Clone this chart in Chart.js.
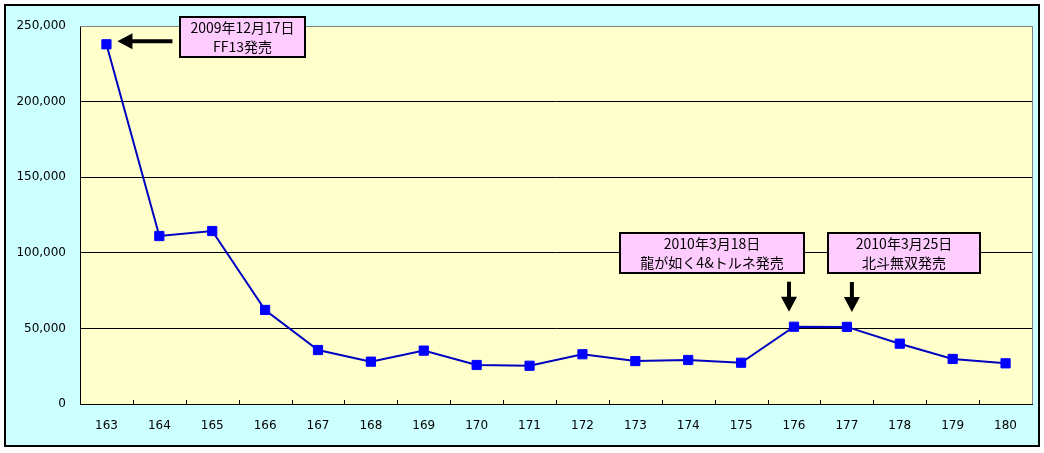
<!DOCTYPE html>
<html>
<head>
<meta charset="utf-8">
<script src="https://cdn.jsdelivr.net/npm/chart.js@4.4.1/dist/chart.umd.min.js"></script>
<style>
  html, body { margin: 0; background: #fff; }
  #wrap { width: 1044px; height: 453px; }
</style>
</head>
<body>
<div id="wrap"><canvas id="salesChart" width="1044" height="453"></canvas></div>
<script>
const weeks = ['163', '164', '165', '166', '167', '168', '169', '170', '171',
               '172', '173', '174', '175', '176', '177', '178', '179', '180'];
const sales = [237900, 111100, 114400, 62200, 35700, 28000, 35300, 25800, 25300,
               32900, 28400, 29100, 27300, 51100, 51000, 39900, 29800, 26900];
const yTicks = [0, 50000, 100000, 150000, 200000, 250000];
const noteWeeks = ['163', '176', '177'];
const noteLines = [
  ['2009年12月17日', 'FF13発売'],
  ['2010年3月18日', '龍が如く4&トルネ発売'],
  ['2010年3月25日', '北斗無双発売']
];

// where each callout sits, relative to the point it points at
const calloutLayout = [
  { dir: 'left', box: { dx: 74, dy: -27.5, w: 125, h: 40 }, arrow: { dx: 11, dy: -3, len: 55 } },
  { dir: 'down', box: { dx: -174, dy: -94, w: 184, h: 40 }, arrow: { dx: -5, dy: -15, len: 30 } },
  { dir: 'down', box: { dx: -19, dy: -94, w: 152, h: 40 }, arrow: { dx: 5, dy: -15, len: 30 } }
];

const frame = {
  id: 'frame',
  beforeDraw(chart) {
    const { ctx, chartArea: a } = chart;
    ctx.save();
    ctx.fillStyle = '#fff';
    ctx.fillRect(0, 0, chart.width, chart.height);
    ctx.fillStyle = '#ccffff';
    ctx.fillRect(5, 5, 1034, 441);
    ctx.strokeStyle = '#000';
    ctx.lineWidth = 2;
    ctx.strokeRect(5, 5, 1034, 441);
    ctx.fillStyle = '#ffffcc';
    ctx.fillRect(a.left, a.top, a.right - a.left, a.bottom - a.top);
    ctx.restore();
  },
  beforeDatasetsDraw(chart) {
    const { ctx, chartArea: a } = chart;
    ctx.save();
    ctx.strokeStyle = '#808080';
    ctx.lineWidth = 1;
    ctx.beginPath();
    ctx.moveTo(a.left, a.top + 0.5);
    ctx.lineTo(a.right + 0.5, a.top + 0.5);
    ctx.lineTo(a.right + 0.5, a.bottom);
    ctx.stroke();
    // small tick marks between categories, pointing up into the plot
    const n = weeks.length;
    const step = (a.right - a.left) / n;
    ctx.strokeStyle = '#000';
    ctx.beginPath();
    for (let i = 1; i < n; i++) {
      const x = Math.round(a.left + i * step) + 0.5;
      ctx.moveTo(x, a.bottom - 4);
      ctx.lineTo(x, a.bottom);
    }
    ctx.stroke();
    ctx.restore();
  },
  afterDraw(chart) {
    const { ctx } = chart;
    const xs = chart.scales.x, ys = chart.scales.y;
    ctx.save();
    noteWeeks.forEach((wk, k) => {
      const idx = weeks.indexOf(wk);
      const px = xs.getPixelForValue(idx);
      const py = ys.getPixelForValue(sales[idx]);
      const L = calloutLayout[k];

      // arrow
      const tx = px + L.arrow.dx, ty = py + L.arrow.dy;
      ctx.fillStyle = '#000';
      ctx.beginPath();
      if (L.dir === 'left') {
        ctx.moveTo(tx, ty);
        ctx.lineTo(tx + 15, ty - 8);
        ctx.lineTo(tx + 15, ty - 2);
        ctx.lineTo(tx + L.arrow.len, ty - 2);
        ctx.lineTo(tx + L.arrow.len, ty + 2);
        ctx.lineTo(tx + 15, ty + 2);
        ctx.lineTo(tx + 15, ty + 8);
      } else {
        ctx.moveTo(tx, ty);
        ctx.lineTo(tx - 8, ty - 15);
        ctx.lineTo(tx - 2, ty - 15);
        ctx.lineTo(tx - 2, ty - L.arrow.len);
        ctx.lineTo(tx + 2, ty - L.arrow.len);
        ctx.lineTo(tx + 2, ty - 15);
        ctx.lineTo(tx + 8, ty - 15);
      }
      ctx.closePath();
      ctx.fill();

      // box
      const bx = Math.round(px + L.box.dx), by = Math.round(py + L.box.dy);
      ctx.fillStyle = '#ffccff';
      ctx.fillRect(bx, by, L.box.w, L.box.h);
      ctx.strokeStyle = '#000';
      ctx.lineWidth = 2;
      ctx.strokeRect(bx, by, L.box.w, L.box.h);
      ctx.fillStyle = '#000';
      ctx.font = '14px "Noto Sans CJK JP"';
      ctx.textAlign = 'center';
      ctx.textBaseline = 'middle';
      ctx.fillText(noteLines[k][0], bx + L.box.w / 2, by + 11);
      ctx.fillText(noteLines[k][1], bx + L.box.w / 2, by + 30);
    });
    ctx.restore();
  }
};

new Chart(document.getElementById('salesChart'), {
  type: 'line',
  data: {
    labels: weeks,
    datasets: [{
      data: sales,
      borderColor: '#0000c0',
      borderWidth: 2,
      backgroundColor: '#0000ff',
      pointBackgroundColor: '#0000ff',
      pointBorderColor: '#0000ff',
      pointBorderWidth: 1,
      pointStyle: 'rect',
      pointRadius: 6.5,
      tension: 0
    }]
  },
  options: {
    responsive: false,
    animation: false,
    layout: { padding: { top: 26, right: 12, left: 0, bottom: 0 } },
    plugins: { legend: { display: false }, tooltip: { enabled: false } },
    scales: {
      x: {
        offset: true,
        grid: { color: 'rgba(0,0,0,0)', drawTicks: false },
        border: { color: '#000', width: 1 },
        ticks: {
          color: '#000', padding: 15, maxRotation: 0, autoSkip: false,
          font: { family: 'DejaVu Sans', size: 12 }
        },
        afterFit: s => { s.height = 49; }
      },
      y: {
        min: 0,
        max: 250000,
        grid: {
          color: c => (c.tick && c.tick.value === 250000) ? '#808080' : '#000',
          drawTicks: false
        },
        border: { color: '#000', width: 1 },
        ticks: {
          color: '#000', padding: 14,
          font: { family: 'DejaVu Sans', size: 12 },
          callback: v => v.toLocaleString('en-US')
        },
        afterBuildTicks: s => { s.ticks = yTicks.map(v => ({ value: v })); },
        afterFit: s => { s.width = 80; }
      }
    }
  },
  plugins: [frame]
});
</script>
</body>
</html>
